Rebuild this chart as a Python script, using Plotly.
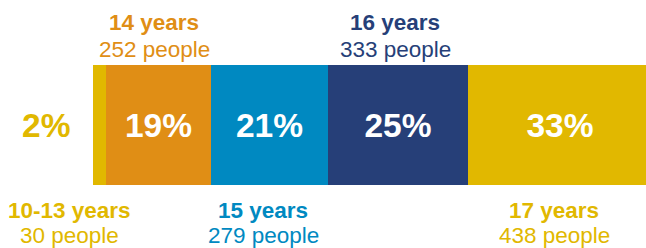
import plotly.graph_objects as go

groups = ["10-13 years", "14 years", "15 years", "16 years", "17 years"]
people = [30, 252, 279, 333, 438]
colors = ["#E1B800", "#E08E15", "#0089C1", "#263F78", "#E1B800"]
label_side = ["below", "above", "below", "above", "below"]

total = sum(people)
pcts = [round(p / total * 100) for p in people]

# layout (pixels)
W, H = 646, 248
L, R, T, B = 93, 0, 65, 63
plot_h = H - T - B
plot_w = W - L - R
bar_px = 559                     # full bar length in pixels (runs slightly past the right edge)
label_px = [69, 154, 263, 395, 554]  # horizontal centre of each group's caption

def ypaper(py):
    return (H - B - py) / plot_h

def xpaper(px):
    return (px - L) / plot_w

FONT = "Liberation Sans"

fig = go.Figure()
for i, (g, p, c) in enumerate(zip(groups, people, colors)):
    txt = "" if i == 0 else f"<b>{pcts[i]}%</b>"
    fig.add_trace(go.Bar(
        x=[p], y=["all"], orientation="h", marker=dict(color=c, line=dict(width=0)),
        text=[txt], textposition="inside", insidetextanchor="middle",
        textfont=dict(color="white", size=33.5, family=FONT),
        showlegend=False, hoverinfo="skip", name=g,
    ))

annotations = []
for i, (g, p, c) in enumerate(zip(groups, people, colors)):
    if i == 0:
        annotations.append(dict(x=xpaper(46), xref="paper", y=ypaper(125), yref="paper",
                                xanchor="center", yanchor="middle",
                                text=f"<b>{pcts[i]}%</b>", showarrow=False,
                                font=dict(color=c, size=33.5, family=FONT)))
    xa = dict(x=xpaper(label_px[i]), xref="paper")
    if label_side[i] == "above":
        y1, y2 = ypaper(23), ypaper(49.5)
    else:
        y1, y2 = ypaper(210), ypaper(235)
    annotations.append(dict(**xa, y=y1, yref="paper", xanchor="center", yanchor="middle",
                            text=f"<b>{g}</b>", showarrow=False,
                            font=dict(color=c, size=22.5, family=FONT)))
    annotations.append(dict(**xa, y=y2, yref="paper", xanchor="center", yanchor="middle",
                            text=f"{p} people", showarrow=False,
                            font=dict(color=c, size=22.5, family=FONT)))

fig.update_layout(
    width=W, height=H, barmode="stack", bargap=0,
    margin=dict(l=L, r=R, t=T, b=B, pad=0),
    paper_bgcolor="white", plot_bgcolor="white",
    xaxis=dict(visible=False, range=[0, total * plot_w / bar_px], fixedrange=True),
    yaxis=dict(visible=False, fixedrange=True),
    annotations=annotations,
    font=dict(family=FONT),
)
fig.write_html("out.html", config={"displayModeBar": False},
               post_script="document.body.style.margin='0';")
